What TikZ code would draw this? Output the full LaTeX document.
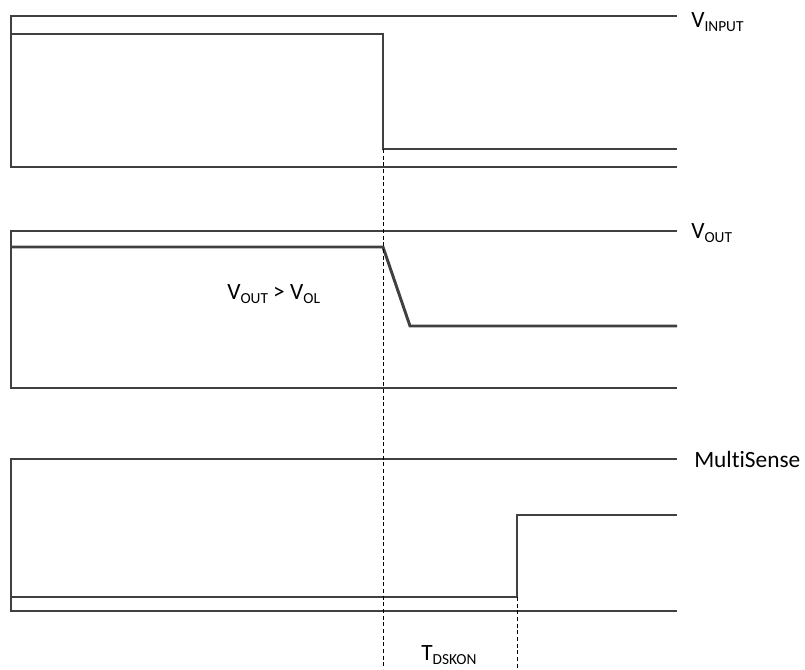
\documentclass[tikz,border=0pt]{standalone}
\usepackage{fontspec}
\setmainfont{Carlito}[Ligatures=NoCommon]
\newcommand{\lowsub}[1]{\raisebox{-0.18em}{\fontsize{11.5}{12}\selectfont #1}}
\tikzset{
  trace/.style={draw=black!75, line width=2.2pt},
  marker/.style={draw=black, line width=0.5pt, dash pattern=on 3pt off 2pt},
  siglabel/.style={anchor=base west, inner sep=0pt, font=\fontsize{17.5}{20}\selectfont}
}
\begin{document}
\begin{tikzpicture}[x=0.75pt, y=-0.75pt]
        \useasboundingbox (0,0) rectangle (805,669);
        % input
        \coordinate (IA) at (11, 16);
        \coordinate (IB) at (11, 167);
        \coordinate (IR) at (383, 34);
        \coordinate (IF) at (383, 149);
        \draw[trace] (677, 16) -- (IA) -- (IB) -- (677, 167);
        \draw[trace] (IA |- IR) -- (IR) -- (IF) -- (677, 149);
        \node[siglabel] (vinput) at (691, 27) {V\lowsub{INPUT}};

        % output
        \coordinate (OA) at (11, 231);
        \coordinate (OB) at (11, 388);
        \coordinate (OR) at (383, 247);
        \coordinate (OF) at (410, 326);
        \draw[trace] (677, 231) -- (OA) -- (OB) -- (677, 388);
        \draw[trace] (OA |- OR) -- (OR) -- (OF) -- (677, 326);
        \node[siglabel] (vout) at (691, 238) {V\lowsub{OUT}};
        \node[siglabel] (cond) at (227, 299) {V\lowsub{OUT} > V\lowsub{OL}};

        % multisense
        \coordinate (MA) at (11, 459);
        \coordinate (MB) at (11, 611);
        \coordinate (ML) at (517, 597);
        \coordinate (MH) at (517, 515);
        \draw[trace] (677, 459) -- (MA) -- (MB) -- (677, 611);
        \draw[trace] (MA |- ML) -- (ML) -- (MH) -- (677, 515);
        \node[siglabel] (msense) at (694, 467) {MultiSense};

        % timing
        \draw[marker] (IF) -- (383, 669);
        \draw[marker] (ML) -- (517, 669);
        \node[siglabel] (tdskon) at (421, 660) {T\lowsub{DSKON}};
\end{tikzpicture}
\end{document}
